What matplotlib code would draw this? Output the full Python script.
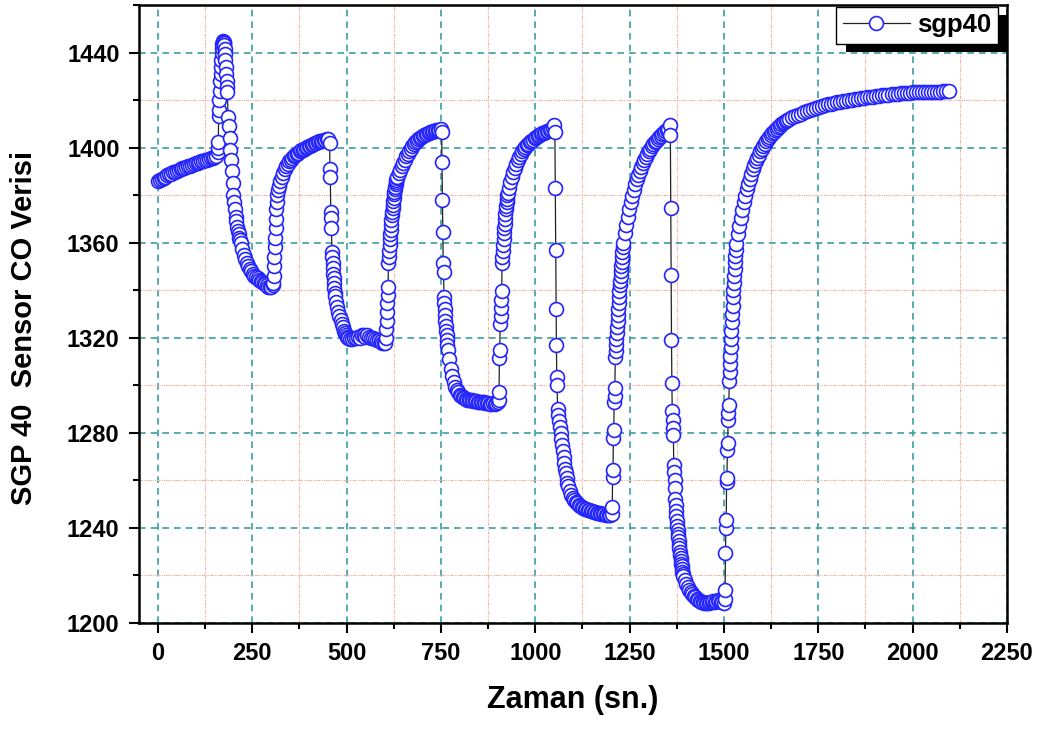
import numpy as np
import matplotlib
matplotlib.use("Agg")
import matplotlib.pyplot as plt
from matplotlib.ticker import MultipleLocator
from matplotlib.patches import Rectangle

plt.rcParams['font.family'] = ['Liberation Sans', 'DejaVu Sans']
plt.rcParams['font.weight'] = 'bold'

# sensor readings
# each list: readings taken every `step` seconds starting at `start`
base = [1385.8, 1386.3, 1386.9, 1387.3, 1387.8, 1388.4, 1388.7, 1389.1, 1389.6, 1389.9,
        1390.3, 1390.6, 1390.9, 1391.3, 1391.5, 1391.9, 1392.2, 1392.4, 1392.8, 1393.0,
        1393.4, 1393.6, 1393.9, 1394.3, 1394.5, 1394.8, 1395.0, 1395.3, 1395.6, 1395.8,
        1396.1, 1396.4]
spike_up = [1398.0, 1400.0, 1402.5, 1413.5, 1416.0, 1420.0, 1424.0, 1428.0, 1431.0, 1434.0,
            1437.0, 1440.0, 1442.0, 1443.5, 1444.5, 1445.0]
spike_down = [1444.5, 1444.0, 1443.0, 1441.5, 1439.5, 1437.0, 1434.0, 1431.0, 1428.0, 1425.5,
              1423.5]
fall1 = [1413.0, 1409.0, 1404.0, 1399.0, 1395.0, 1390.0, 1385.0, 1380.0, 1377.0, 1374.0,
         1371.0, 1369.0, 1366.5, 1365.0, 1363.5, 1362.0, 1361.0, 1360.0]
floor1 = [1357.5, 1355.0, 1353.0, 1351.5, 1350.0, 1349.0, 1348.0, 1347.0, 1346.0, 1345.5,
          1345.0, 1344.5, 1344.0, 1343.5, 1343.0, 1342.5, 1342.0, 1341.5, 1341.5, 1341.5,
          1342.0]
rise1 = [1343, 1346, 1350, 1354, 1358, 1362, 1366, 1370, 1374, 1377, 1380, 1382]
recover1 = [1384.0, 1385.8, 1387.6, 1389.4, 1391.0, 1392.2, 1393.3, 1394.2, 1395.0, 1395.7,
            1396.3, 1396.9, 1397.4, 1397.9, 1398.4, 1398.8, 1399.2, 1399.6, 1400.0, 1400.3,
            1400.6, 1400.9, 1401.2, 1401.5, 1401.8, 1402.1, 1402.3, 1402.6, 1402.8, 1403.0,
            1403.2, 1403.4, 1403.6, 1403.5]
drop2 = [1402.0, 1391.0, 1387.5, 1373.0, 1370.5, 1366.0, 1356.0, 1354.0, 1351.5, 1349.5,
         1347.0, 1345.0, 1343.0, 1341.0, 1339.0, 1337.5]
tail2 = [1335.0, 1333.0, 1331.0, 1329.0, 1327.5, 1326.0, 1324.5, 1323.0, 1322.0, 1321.0,
         1320.5, 1320.0]
floor2 = [1319.5, 1319.5, 1320.0, 1320.0, 1320.5, 1320.0, 1321.0, 1321.0, 1320.5, 1321.0,
          1320.5, 1320.0, 1320.0, 1319.5, 1319.0, 1319.0, 1318.5, 1318.0, 1318.0]
jump2 = [1318.0, 1320.0, 1323.5, 1327.0, 1331.0, 1334.5, 1338.0, 1341.5]
rise2 = [1351.5, 1354.0, 1356.5, 1359.0, 1361.5, 1363.5, 1365.5, 1367.5, 1369.5, 1371.5,
         1373.0, 1374.5, 1376.0, 1377.5, 1379.0, 1380.5, 1381.5, 1382.5, 1383.5, 1384.5,
         1385.5, 1386.3, 1387.1, 1387.8]
recover2 = [1389.3, 1390.8, 1392.2, 1393.7, 1395.0, 1396.3, 1397.5, 1398.6, 1399.6, 1400.6,
            1401.5, 1402.2, 1402.9, 1403.5, 1404.0, 1404.5, 1404.9, 1405.3, 1405.6, 1405.9,
            1406.2, 1406.5, 1406.7, 1406.9, 1407.1, 1407.3, 1407.5, 1407.6, 1407.8]
drop3 = [1406.5, 1394.0, 1378.0, 1364.6, 1351.6, 1347.8, 1337.0, 1334.5, 1332.0, 1329.5,
         1327.0, 1325.0, 1323.0, 1321.0, 1319.0, 1317.0, 1315.0]
tail3 = [1311.0, 1307.0, 1304.0, 1301.5, 1299.5, 1298.0, 1297.0, 1296.0, 1295.5, 1295.0,
         1294.5, 1294.2, 1294.0, 1294.0, 1294.0, 1293.8, 1293.5, 1293.5, 1293.3, 1293.0,
         1293.0, 1293.0, 1292.8, 1292.8, 1292.5, 1292.5, 1292.5, 1292.3, 1292.3, 1292.5,
         1292.3, 1292.5, 1292.8]
rise3 = [1294.0, 1297.0, 1311.6, 1315.0, 1326.0, 1329.0, 1332.5, 1336.0, 1339.5, 1351.6,
         1354.0, 1356.5, 1359.0, 1361.5, 1364.0, 1366.0, 1368.0, 1370.0, 1372.0, 1374.0,
         1375.5, 1377.0, 1378.5, 1380.0, 1381.0]
recover3 = [1383.0, 1385.5, 1387.6, 1389.6, 1391.5, 1393.2, 1394.8, 1396.2, 1397.4, 1398.5,
            1399.5, 1400.3, 1401.0, 1401.7, 1402.3, 1402.9, 1403.4, 1403.9, 1404.4, 1404.8,
            1405.2, 1405.6, 1406.0, 1406.3, 1406.6, 1406.9, 1407.2, 1407.5, 1407.8, 1408.2,
            1409.5]
drop4 = [1406.7, 1383.0, 1357.0, 1332.0, 1317.0, 1303.7, 1300.2]
fall4 = [1290.0, 1287.5, 1285.0, 1282.5, 1280.0, 1277.5, 1275.0, 1272.5, 1270.0, 1267.5,
         1265.0, 1263.0, 1261.0, 1259.0, 1257.5]
floor4 = [1255.5, 1254.0, 1252.8, 1251.8, 1251.0, 1250.3, 1249.7, 1249.2, 1248.8, 1248.4,
          1248.0, 1247.8, 1247.6, 1247.4, 1247.2, 1247.0, 1246.8, 1246.6, 1246.4, 1246.3,
          1246.1, 1246.0, 1245.8, 1245.7, 1245.6, 1245.5, 1245.5, 1245.6]
rise4 = [1246.0, 1249.0, 1261.5, 1264.4, 1278.0, 1281.0, 1293.0, 1295.5, 1299.0, 1312.0,
         1314.5, 1317.0, 1319.5, 1322.0, 1324.5, 1327.0, 1329.5, 1332.0, 1334.5, 1337.0,
         1339.5, 1342.0, 1344.0, 1346.0, 1348.0, 1350.0, 1352.0, 1354.0, 1356.0, 1358.0,
         1360.0]
recover4 = [1364.0, 1367.5, 1371.0, 1374.0, 1377.0, 1379.7, 1382.2, 1384.5, 1386.6, 1388.5,
            1390.3, 1392.0, 1393.5, 1394.9, 1396.2, 1397.4, 1398.5, 1399.5, 1400.5, 1401.4,
            1402.2, 1403.0, 1403.7, 1404.4, 1405.0, 1405.6, 1406.2, 1406.8, 1407.4, 1408.0,
            1409.5]
drop5 = [1405.5, 1374.7, 1346.5, 1319.2, 1301.0, 1289.0, 1285.5, 1282.0, 1279.0, 1266.5,
         1263.5, 1260.0, 1257.0, 1252.0, 1249.5, 1247.0, 1245.0, 1243.0, 1241.0, 1239.0,
         1237.5, 1236.0, 1234.5, 1233.0, 1231.5, 1230.0, 1228.7, 1227.4, 1226.2, 1225.0,
         1223.8, 1222.7, 1221.6, 1220.6, 1219.6]
floor5 = [1218.0, 1216.5, 1215.2, 1214.0, 1213.0, 1212.2, 1211.5, 1210.8, 1210.2, 1209.7,
          1209.3, 1209.0, 1208.7, 1208.5, 1208.4, 1208.3, 1208.5, 1208.7, 1209.0, 1209.2,
          1209.0, 1209.3, 1209.5, 1209.2, 1209.0, 1208.8, 1208.5]
rise5 = [1210.0, 1214.0, 1229.5, 1240.0, 1243.4, 1259.4, 1261.0, 1272.8, 1275.8, 1285.5,
         1288.4, 1291.8, 1302.0, 1305.5, 1309.0, 1312.5, 1316.0, 1319.5, 1323.0, 1326.5,
         1330.0, 1333.5, 1337.0, 1340.0, 1343.0, 1346.0, 1349.0, 1352.0, 1354.5, 1357.0,
         1359.5]
recover5 = [1363.5, 1367.0, 1370.5, 1373.8, 1377.0, 1379.8, 1382.4, 1384.8, 1387.0, 1389.0,
            1390.9, 1392.6, 1394.2, 1395.7, 1397.1, 1398.4, 1399.6, 1400.7, 1401.7, 1402.7,
            1403.6, 1404.4, 1405.2, 1406.0, 1406.7, 1407.4, 1408.0, 1408.6, 1409.2, 1409.8,
            1410.3, 1410.8, 1411.3, 1411.7, 1412.1]
plateau = [1412.7, 1413.3, 1413.8, 1414.3, 1414.8, 1415.3, 1415.8, 1416.3, 1416.8, 1417.2,
           1417.6, 1417.9, 1418.2, 1418.5, 1418.8, 1419.1, 1419.3, 1419.5, 1419.7, 1419.9,
           1420.1, 1420.3, 1420.5, 1420.7, 1420.9, 1421.1, 1421.3, 1421.5, 1421.7, 1421.9,
           1422.0, 1422.2, 1422.3, 1422.4, 1422.5, 1422.6, 1422.8, 1422.9, 1423.0, 1423.1,
           1423.2, 1423.3, 1423.3, 1423.4, 1423.4, 1423.5, 1423.5, 1423.6, 1423.6, 1423.6,
           1423.7, 1423.7, 1423.7]

# (readings, start [s], step [s])
parts = [(base, 0, 5), (spike_up, 158, 1), (spike_down, 174, 1), (fall1, 186, 2),
         (floor1, 224, 4), (rise1, 306, 1), (recover1, 320, 4), (drop2, 455, 1),
         (tail2, 472, 3), (floor2, 510, 5), (jump2, 603, 1), (rise2, 611, 1),
         (recover2, 638, 4), (drop3, 752, 1), (tail3, 772, 4), (rise3, 903, 1),
         (recover3, 930, 4), (drop4, 1052, 1), (fall4, 1059, 2), (floor4, 1091, 4),
         (rise4, 1203, 1), (recover4, 1237, 4), (drop5, 1358, 1), (floor5, 1396, 4),
         (rise5, 1502, 1), (recover5, 1536, 4), (plateau, 1680, 8)]

t = np.concatenate([start + step * np.arange(len(vals)) for vals, start, step in parts])
v = np.concatenate([np.array(vals, dtype=float) for vals, start, step in parts])

fig = plt.figure(figsize=(10.46, 7.29), dpi=100)
ax = fig.add_axes([0.1329, 0.1454, 0.8298, 0.8477])

ax.plot(t, v, color='#222222', lw=0.9, marker='o', ms=10, mfc='white',
        mec='#2424ff', mew=1.2, label='sgp40', zorder=3)

ax.set_xlim(-50, 2250)
ax.set_ylim(1200, 1460)
ax.xaxis.set_major_locator(MultipleLocator(250))
ax.xaxis.set_minor_locator(MultipleLocator(125))
ax.yaxis.set_major_locator(MultipleLocator(40))
ax.yaxis.set_minor_locator(MultipleLocator(20))

ax.set_axisbelow(True)
ax.grid(which='major', color='#3a9e9e', ls=(0, (4, 3)), lw=1.2)
ax.grid(which='minor', color='#f5b2a4', ls=(0, (3, 1, 1, 1, 1, 1)), lw=0.8)

for s in ax.spines.values():
    s.set_linewidth(1.8)
ax.tick_params(which='major', direction='out', length=7, width=1.5, labelsize=17, pad=7)
ax.tick_params(which='minor', direction='out', length=4, width=1.5)

ax.set_xlabel('Zaman (sn.)', fontsize=22, fontweight='bold')
ax.set_ylabel('SGP 40  Sensor CO Verisi', fontsize=21, fontweight='bold')
ax.xaxis.set_label_coords(0.5, -0.10)
ax.yaxis.set_label_coords(-0.116, 0.477)

leg = ax.legend(loc='upper right', bbox_to_anchor=(0.9896, 0.9968), borderaxespad=0,
                frameon=True, fancybox=False, edgecolor='black', framealpha=1,
                fontsize=18.5, handlelength=2.6, handletextpad=0.3, borderpad=0.25)
leg.get_frame().set_linewidth(1.0)

# black drop shadow behind the legend box
fig.canvas.draw()
bb = leg.get_window_extent()
ax.add_patch(Rectangle((bb.x0 + 10, bb.y0 - 8), bb.width, bb.height, transform=None,
                       facecolor='black', edgecolor='none', clip_on=False, zorder=4.5))

plt.savefig("out.png", dpi=100)
